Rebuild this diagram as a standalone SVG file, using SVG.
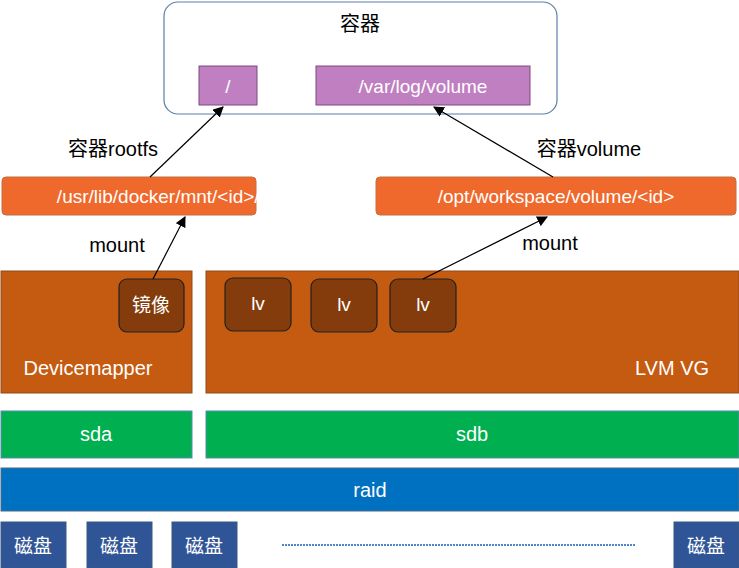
<svg xmlns="http://www.w3.org/2000/svg" width="739" height="568" viewBox="0 0 739 568">
<style>
text{font-family:"Liberation Sans","Noto Sans CJK SC",sans-serif;text-anchor:middle}
.w{fill:#fff;font-size:19px}
.b{fill:#000;font-size:20px}
.or{fill:#f0692c;stroke:#c0703f;stroke-width:1}
.br{fill:#c55a11;stroke:#8f4a1e;stroke-width:1}
.lv{fill:#843c0c;stroke:#222;stroke-width:1.2}
.gr{fill:#00b050;stroke:#5a8ab0;stroke-width:1}
.bl{fill:#0070c0;stroke:#4a6a8a;stroke-width:1}
.dk{fill:#2f5597;stroke:#3a5a80;stroke-width:1}
.pu{fill:#c07fc0;stroke:#7f4a7f;stroke-width:1}
</style>
<defs><marker id="a" viewBox="0 0 10 10" refX="9" refY="5" markerWidth="9" markerHeight="9" orient="auto"><path d="M0,0L10,5L0,10z" fill="#000"/></marker></defs>
<g id="container"><rect x="164" y="2" width="393" height="112" rx="14" fill="#fff" stroke="#5b7fa8" stroke-width="1.2"/><text class="b" x="360" y="31">容器</text></g>
<g id="root"><rect class="pu" x="199" y="66" width="58" height="39"/><text class="w" x="228" y="93">/</text></g>
<g id="vol"><rect class="pu" x="316" y="66" width="214" height="39"/><text class="w" x="423" y="93">/var/log/volume</text></g>
<g id="rootfs"><rect class="or" x="2" y="177" width="254" height="38" rx="4"/><text class="w" x="182" y="203" style="display:none"/><text class="w" x="182" y="203">/usr/lib/docker/mnt/&lt;id&gt;/rootfs</text></g>
<g id="ws"><rect class="or" x="266" y="177" width="0" height="0"/><rect class="or" x="376" y="177" width="360" height="38" rx="4"/><text class="w" x="556" y="203">/opt/workspace/volume/&lt;id&gt;</text></g>
<g id="dm"><rect class="br" x="1" y="271" width="191" height="122"/><text class="w" x="88" y="375" style="font-size:20px">Devicemapper</text></g>
<g id="lvm"><rect class="br" x="206" y="271" width="533" height="122"/><text class="w" x="672" y="375" style="font-size:20px">LVM VG</text></g>
<g id="img"><rect class="lv" x="119" y="279" width="65" height="53" rx="8"/><text class="w" x="151" y="312">镜像</text></g>
<g id="lv1"><rect class="lv" x="225" y="278" width="66" height="53" rx="8"/><text class="w" x="258" y="310">lv</text></g>
<g id="lv2"><rect class="lv" x="311" y="279" width="66" height="53" rx="8"/><text class="w" x="344" y="311">lv</text></g>
<g id="lv3"><rect class="lv" x="390" y="279" width="66" height="53" rx="8"/><text class="w" x="423" y="311">lv</text></g>
<g id="sda"><rect class="gr" x="1" y="411" width="191" height="47"/><text class="w" x="96" y="441" style="font-size:20px">sda</text></g>
<g id="sdb"><rect class="gr" x="206" y="411" width="533" height="47"/><text class="w" x="472" y="441" style="font-size:20px">sdb</text></g>
<g id="raid"><rect class="bl" x="1" y="468" width="738" height="43"/><text class="w" x="370" y="497" style="font-size:20px">raid</text></g>
<g id="d1"><rect class="dk" x="1" y="522" width="65" height="46"/><text class="w" x="33" y="553">磁盘</text></g>
<g id="d2"><rect class="dk" x="87" y="522" width="65" height="46"/><text class="w" x="119" y="553">磁盘</text></g>
<g id="d3"><rect class="dk" x="172" y="522" width="65" height="46"/><text class="w" x="204" y="553">磁盘</text></g>
<g id="d4"><rect class="dk" x="674" y="522" width="65" height="46"/><text class="w" x="706" y="553">磁盘</text></g>
<g id="connectors" stroke="#000" stroke-width="1.2" fill="none">
<line x1="153" y1="279" x2="185" y2="217" marker-end="url(#a)"/>
<line x1="423" y1="279" x2="547" y2="217" marker-end="url(#a)"/>
<line x1="150" y1="177" x2="223" y2="107" marker-end="url(#a)"/>
<line x1="553" y1="177" x2="434" y2="107" marker-end="url(#a)"/>
<line x1="282" y1="545" x2="635" y2="545" stroke="#4a86c8" stroke-width="2" stroke-dasharray="2,1"/>
</g>
<text class="b" x="113" y="156">容器rootfs</text>
<text class="b" x="589" y="156">容器volume</text>
<text class="b" x="117" y="252">mount</text>
<text class="b" x="550" y="250">mount</text>
</svg>
